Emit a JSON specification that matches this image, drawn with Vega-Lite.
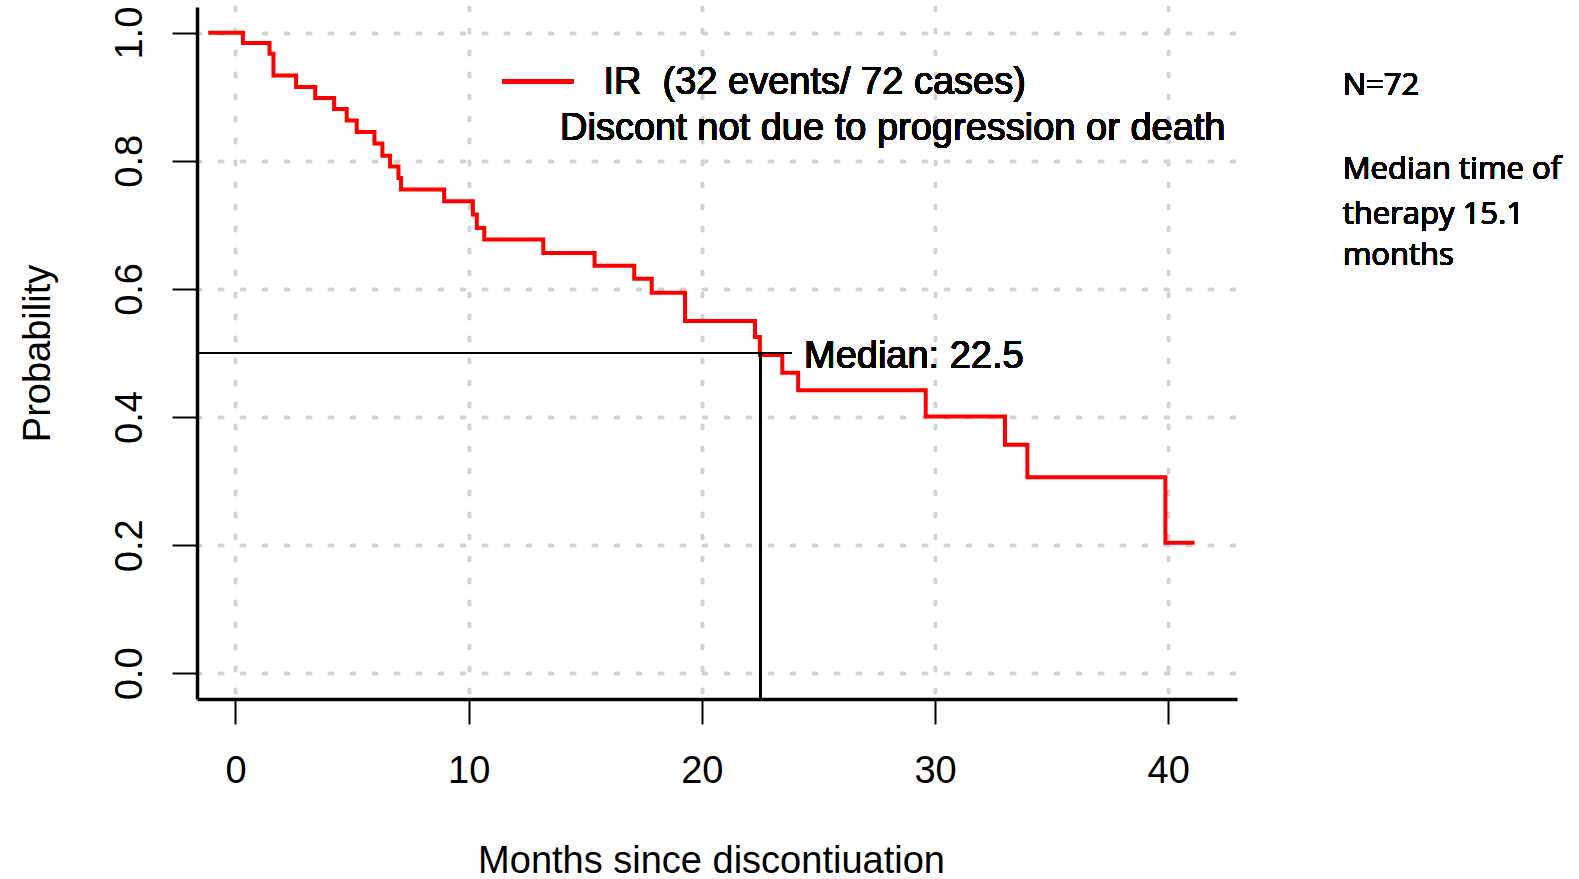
{
  "$schema": "https://vega.github.io/schema/vega-lite/v6.json",
  "width": 1040,
  "height": 692,
  "autosize": {"type": "none"},
  "padding": {"left": 197, "top": 7, "right": 342, "bottom": 180},
  "background": "white",
  "config": {
    "view": {"stroke": null},
    "font": "Liberation Sans",
    "axis": {
      "labelFont": "Liberation Sans",
      "titleFont": "Liberation Sans",
      "labelFontSize": 38,
      "titleFontSize": 38,
      "labelColor": "black",
      "titleColor": "black",
      "titleFontWeight": "normal",
      "domainColor": "black",
      "domainWidth": 3.5,
      "tickColor": "black",
      "tickWidth": 2,
      "tickSize": 25,
      "grid": true,
      "gridColor": "#d3d3d3",
      "gridWidth": 4,
      "gridDash": [3, 19],
      "gridCap": "round",
      "labelOverlap": false,
      "labelFlush": false
    }
  },
  "data": {
    "values": [
      {"month": -1.17, "prob": 1.0},
      {"month": 0.32, "prob": 0.984},
      {"month": 1.46, "prob": 0.967},
      {"month": 1.63, "prob": 0.933},
      {"month": 2.6, "prob": 0.915},
      {"month": 3.42, "prob": 0.898},
      {"month": 4.23, "prob": 0.881},
      {"month": 4.77, "prob": 0.863},
      {"month": 5.2, "prob": 0.845},
      {"month": 5.96, "prob": 0.827},
      {"month": 6.3, "prob": 0.808},
      {"month": 6.63, "prob": 0.791},
      {"month": 6.99, "prob": 0.773},
      {"month": 7.1, "prob": 0.755},
      {"month": 8.95, "prob": 0.737},
      {"month": 10.18, "prob": 0.716},
      {"month": 10.35, "prob": 0.695},
      {"month": 10.67, "prob": 0.677},
      {"month": 13.2, "prob": 0.656},
      {"month": 15.4, "prob": 0.636},
      {"month": 17.1, "prob": 0.616},
      {"month": 17.85, "prob": 0.594},
      {"month": 19.28, "prob": 0.55},
      {"month": 22.28, "prob": 0.525},
      {"month": 22.49, "prob": 0.497},
      {"month": 23.45, "prob": 0.469},
      {"month": 24.13, "prob": 0.442},
      {"month": 29.6, "prob": 0.401},
      {"month": 33.0, "prob": 0.357},
      {"month": 33.96, "prob": 0.306},
      {"month": 39.88, "prob": 0.204},
      {"month": 41.13, "prob": 0.204}
    ]
  },
  "layer": [
    {
      "mark": {"type": "line", "color": "#ff0000", "strokeWidth": 4, "interpolate": "step-after"},
      "encoding": {
        "x": {
          "field": "month",
          "type": "quantitative",
          "scale": {"domain": [-1.65, 42.95], "nice": false, "zero": false},
          "axis": {
            "values": [0, 10, 20, 30, 40],
            "format": "d",
            "title": "Months since discontiuation",
            "labelPadding": 28,
            "titleX": 514,
            "titleY": 162,
            "titleBaseline": "middle",
            "titleAlign": "center"
          }
        },
        "y": {
          "field": "prob",
          "type": "quantitative",
          "scale": {"domain": [-0.04, 1.04], "nice": false, "zero": false},
          "axis": {
            "values": [0, 0.2, 0.4, 0.6, 0.8, 1.0],
            "format": ".1f",
            "title": "Probability",
            "labelAngle": 270,
            "labelAlign": "center",
            "labelBaseline": "bottom",
            "labelPadding": 23,
            "titleAngle": 270,
            "titleX": -159,
            "titleY": 346,
            "titleAlign": "center",
            "titleBaseline": "middle"
          }
        }
      }
    },
    {
      "mark": {"type": "rule", "color": "black", "strokeWidth": 2},
      "encoding": {
        "x": {"datum": -1.65},
        "x2": {"datum": 23.86},
        "y": {"datum": 0.5}
      }
    },
    {
      "mark": {"type": "rule", "color": "black", "strokeWidth": 2},
      "encoding": {
        "x": {"datum": 22.5},
        "y": {"datum": 0.5},
        "y2": {"datum": -0.04}
      }
    },
    {
      "mark": {"type": "rule", "color": "#ff0000", "strokeWidth": 4},
      "encoding": {
        "x": {"datum": 11.44},
        "x2": {"datum": 14.48},
        "y": {"datum": 0.924}
      }
    },
    {
      "mark": {"type": "text", "align": "left", "baseline": "middle", "font": "Liberation Sans", "fontSize": 38, "color": "black"},
      "encoding": {
        "x": {"datum": 15.78},
        "y": {"datum": 0.921},
        "text": {"value": "IR\u00a0\u00a0(32 events/ 72 cases)"}
      }
    },
    {
      "mark": {"type": "text", "align": "left", "baseline": "middle", "font": "Liberation Sans", "fontSize": 38, "color": "black"},
      "encoding": {
        "x": {"datum": 13.92},
        "y": {"datum": 0.849},
        "text": {"value": "Discont not due to progression or death"}
      }
    },
    {
      "mark": {"type": "text", "align": "left", "baseline": "middle", "font": "Liberation Sans", "fontSize": 38, "color": "black"},
      "encoding": {
        "x": {"datum": 24.38},
        "y": {"datum": 0.494},
        "text": {"value": "Median: 22.5"}
      }
    },
    {
      "mark": {"type": "text", "align": "left", "baseline": "middle", "font": "Open Sans", "fontSize": 31, "color": "black"},
      "encoding": {
        "x": {"datum": 47.48},
        "y": {"datum": 0.917},
        "text": {"value": "N=72"}
      }
    },
    {
      "mark": {"type": "text", "align": "left", "baseline": "middle", "font": "Open Sans", "fontSize": 31, "color": "black"},
      "encoding": {
        "x": {"datum": 47.48},
        "y": {"datum": 0.786},
        "text": {"value": "Median time of"}
      }
    },
    {
      "mark": {"type": "text", "align": "left", "baseline": "middle", "font": "Open Sans", "fontSize": 31, "color": "black"},
      "encoding": {
        "x": {"datum": 47.48},
        "y": {"datum": 0.716},
        "text": {"value": "therapy 15.1"}
      }
    },
    {
      "mark": {"type": "text", "align": "left", "baseline": "middle", "font": "Open Sans", "fontSize": 31, "color": "black"},
      "encoding": {
        "x": {"datum": 47.48},
        "y": {"datum": 0.651},
        "text": {"value": "months"}
      }
    }
  ]
}
